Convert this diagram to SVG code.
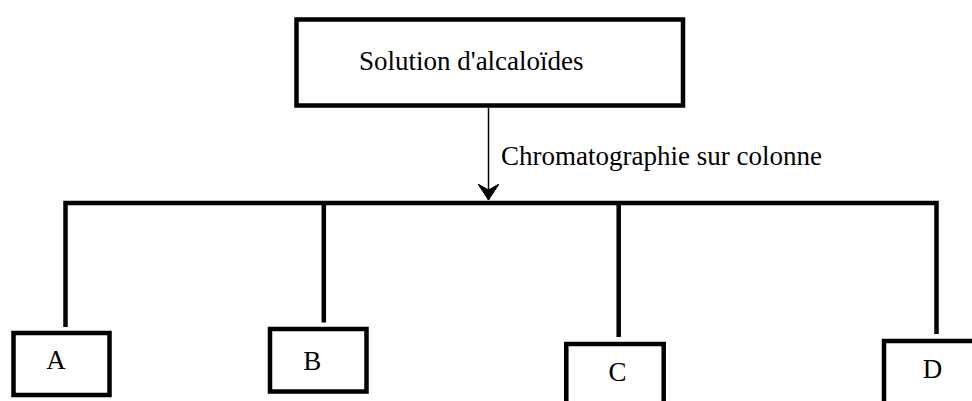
<svg xmlns="http://www.w3.org/2000/svg" width="972" height="401" viewBox="0 0 972 401">
  <style>
    .box { fill: #ffffff; stroke: #000000; stroke-width: 4.5; }
    .lbl { font-family: "Liberation Serif", "Times New Roman", serif; font-size: 27px; fill: #000000; }
    .tree { fill: none; stroke: #000000; stroke-width: 4.5; stroke-linejoin: miter; stroke-linecap: butt; }
    .flow { fill: none; stroke: #000000; stroke-width: 1.5; }
  </style>
  <defs>
    <marker id="chevron" viewBox="0 -10.5 16 21" refX="16" refY="0" markerWidth="16" markerHeight="21" markerUnits="userSpaceOnUse" orient="auto">
      <path d="M0,-10.5 L6,0 L0,10.5 L16,0 Z" fill="#000000" stroke="#000000" stroke-width="1" stroke-linejoin="round"/>
    </marker>
  </defs>
  <rect width="972" height="401" fill="#ffffff"/>

  <!-- connectors -->
  <g id="connectors">
    <line class="flow" x1="488.5" y1="108" x2="488.5" y2="200" marker-end="url(#chevron)"/>
    <text class="lbl" x="501" y="164.5">Chromatographie sur colonne</text>
    <path class="tree" d="M65.5,327 V203 H936.5 V334"/>
    <path class="tree" d="M323.8,203 V322.5"/>
    <path class="tree" d="M618.7,203 V337"/>
  </g>

  <!-- source node -->
  <g id="node-solution">
    <rect class="box" x="296.5" y="19.5" width="386.5" height="86"/>
    <text class="lbl" x="359" y="70">Solution d'alcaloïdes</text>
  </g>

  <!-- fractions -->
  <g id="node-a">
    <rect class="box" x="13.5" y="333" width="96" height="62"/>
    <text class="lbl" x="56" y="369" text-anchor="middle">A</text>
  </g>
  <g id="node-b">
    <rect class="box" x="270" y="329" width="96.5" height="62.5"/>
    <text class="lbl" x="312.3" y="370" text-anchor="middle">B</text>
  </g>
  <g id="node-c">
    <rect class="box" x="566.3" y="344" width="97.4" height="80"/>
    <text class="lbl" x="617.5" y="380.5" text-anchor="middle">C</text>
  </g>
  <g id="node-d">
    <rect class="box" x="884" y="341" width="120" height="80"/>
    <text class="lbl" x="932.5" y="378.3" text-anchor="middle">D</text>
  </g>
</svg>
